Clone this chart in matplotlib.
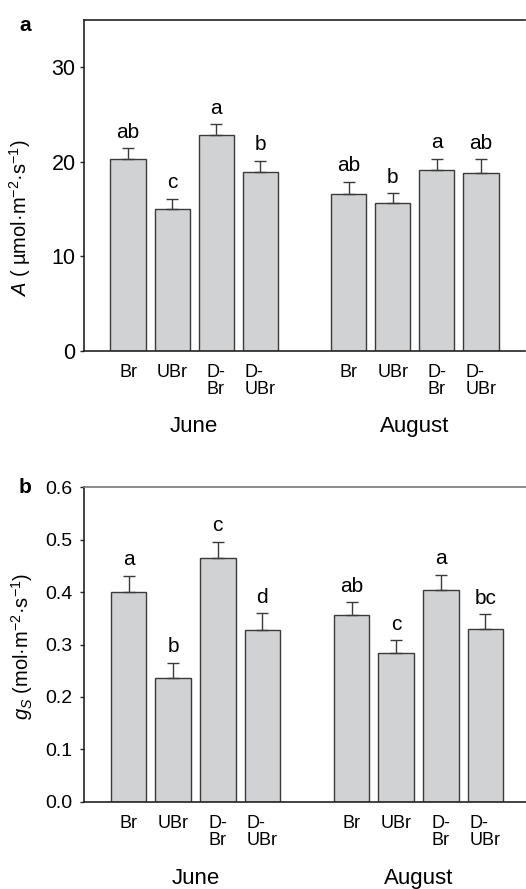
import matplotlib
matplotlib.use("Agg")
import matplotlib.pyplot as plt
import numpy as np

plt.rcParams['font.family'] = ['Liberation Sans', 'DejaVu Sans']
plt.rcParams['mathtext.fontset'] = 'custom'
plt.rcParams['mathtext.rm'] = 'Liberation Sans'
plt.rcParams['mathtext.it'] = 'Liberation Sans:italic'
plt.rcParams['mathtext.bf'] = 'Liberation Sans:bold'

# Treatments and sampling months
treatments = ["Br", "UBr", "D-\nBr", "D-\nUBr"]
months = ["June", "August"]

# Net photosynthesis A (µmol m-2 s-1), means and SE
A_june = [20.3, 15.0, 22.85, 18.9]
A_june_se = [1.15, 1.1, 1.15, 1.2]
A_aug = [16.55, 15.65, 19.15, 18.85]
A_aug_se = [1.35, 1.05, 1.2, 1.45]
A_letters = ["ab", "c", "a", "b", "ab", "b", "a", "ab"]

# Stomatal conductance gs (mol m-2 s-1), means and SE
gs_june = [0.401, 0.236, 0.466, 0.328]
gs_june_se = [0.030, 0.029, 0.030, 0.032]
gs_aug = [0.356, 0.283, 0.404, 0.329]
gs_aug_se = [0.025, 0.025, 0.029, 0.029]
gs_letters = ["a", "b", "c", "d", "ab", "c", "a", "bc"]

positions = np.array([0, 1, 2, 3, 5, 6, 7, 8])
bar_fill = "#d1d2d4"
bar_edge = "#3a3a3a"

W, H = 526, 889
fig = plt.figure(figsize=(W / 100, H / 100), dpi=100)


def px_axes(left, top, right, bottom):
    return fig.add_axes([left / W, 1 - bottom / H, (right - left) / W, (bottom - top) / H])


def draw_panel(ax, means, errs, letters, ylim, yticks, ytick_labels, ylabel,
               tick_fs, spine_color, top_color, label_pad, label_xy, month_off):
    ax.bar(positions, means, width=0.8, color=bar_fill, edgecolor=bar_edge,
           linewidth=1.0, zorder=2)
    ax.errorbar(positions, means, yerr=[np.zeros(len(errs)), errs], fmt='none',
                ecolor=bar_edge, elinewidth=1.0, capsize=4.6, capthick=1.0, zorder=3)
    for x, m, e, t in zip(positions, means, errs, letters):
        ax.annotate(t, xy=(x, m + e), xytext=(0, 7.5), textcoords='offset points',
                    ha='center', va='baseline', fontsize=15)
    ax.set_xlim(-1, 9)
    ax.set_ylim(*ylim)
    ax.set_yticks(yticks)
    ax.set_yticklabels(ytick_labels, fontsize=tick_fs)
    ax.set_xticks(positions)
    ax.set_xticklabels(treatments * 2, fontsize=13, linespacing=1.0,
                       multialignment='left')
    ax.tick_params(axis='x', length=0, pad=9.5)
    ax.tick_params(axis='y', direction='out', length=3, width=1.0,
                   color=spine_color, pad=label_pad)
    ax.spines['right'].set_visible(False)
    ax.spines['bottom'].set_color(spine_color)
    ax.spines['left'].set_color(spine_color)
    ax.spines['top'].set_color(top_color)
    for s in ('top', 'left', 'bottom'):
        ax.spines[s].set_linewidth(1.2)
    ax.set_ylabel(ylabel, fontsize=14.5)
    ax.yaxis.set_label_coords(*label_xy)
    for gi, mname in enumerate(months):
        gx = positions[gi * 4:(gi + 1) * 4].mean()
        ax.annotate(mname, xy=(gx, 0), xycoords=('data', 'axes fraction'),
                    xytext=(0, month_off), textcoords='offset points',
                    ha='center', va='baseline', fontsize=16)


A_means = A_june + A_aug
A_errs = A_june_se + A_aug_se
gs_means = gs_june + gs_aug
gs_errs = gs_june_se + gs_aug_se

ax_a = px_axes(84, 20, 525, 351)
draw_panel(ax_a, A_means, A_errs, A_letters, (0, 35), [0, 10, 20, 30],
           ["0", "10", "20", "30"], r"$\mathit{A}$ ( µmol·m$^{-2}$·s$^{-1}$)",
           15.5, "#222222", "#222222", 3, (-51 / 441, 0.40), -58.5)

ax_b = px_axes(84, 487.3, 530, 801.7)
draw_panel(ax_b, gs_means, gs_errs, gs_letters, (0, 0.6),
           [0.0, 0.1, 0.2, 0.3, 0.4, 0.5, 0.6],
           ["0.0", "0.1", "0.2", "0.3", "0.4", "0.5", "0.6"],
           r"$g_S$ (mol·m$^{-2}$·s$^{-1}$)",
           14, "#222222", "#777777", 5.5, (-49 / 446, 0.495), -59.5)

fig.text(19 / W, 1 - 31 / H, "a", fontsize=15, fontweight='bold', ha='left', va='baseline')
fig.text(19 / W, 1 - 493 / H, "b", fontsize=15, fontweight='bold', ha='left', va='baseline')

fig.savefig("out.png", dpi=100)
